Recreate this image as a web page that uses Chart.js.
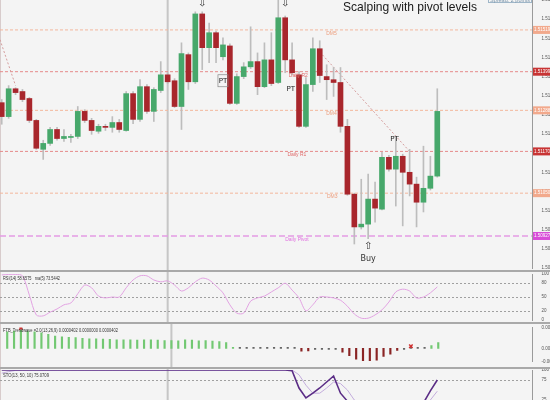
<!DOCTYPE html>
<html><head><meta charset="utf-8">
<script src="https://cdn.jsdelivr.net/npm/chart.js@4/dist/chart.umd.min.js"></script>
<style>
html,body{margin:0;padding:0;background:#f4f4f4;width:550px;height:400px;overflow:hidden;}
.panel{position:absolute;left:0;width:550px;}
</style></head><body>
<div class="panel" style="top:0;height:270px"><canvas id="main"></canvas></div>
<div class="panel" style="top:270px;height:52px"><canvas id="rsi"></canvas></div>
<div class="panel" style="top:322px;height:45px"><canvas id="hist"></canvas></div>
<div class="panel" style="top:367px;height:43px"><canvas id="stoch"></canvas></div>
<script>
// ---------- DATA ----------
const openP  = [1.51310,1.51270,1.51350,1.51342,1.51322,1.51259,1.51176,1.51193,1.51233,1.51207,1.51210,1.51213,1.51285,1.51259,1.51228,1.51242,1.51239,1.51253,1.51230,1.51336,1.51262,1.51356,1.51285,1.51345,1.51390,1.51373,1.51299,1.51448,1.51370,1.51565,1.51468,1.51511,1.51442,1.51473,1.51308,1.51385,1.51413,1.51428,1.51356,1.51433,1.51368,1.51554,1.51433,1.51390,1.51242,1.51362,1.51465,1.51385,1.51376,1.51368,1.51242,1.51047,1.50953,1.50961,1.51033,1.51004,1.51153,1.51119,1.51156,1.51110,1.51076,1.51024,1.51064,1.51099];
const highP  = [1.51319,1.51359,1.51353,1.51348,1.51325,1.51262,1.51202,1.51239,1.51239,1.51233,1.51219,1.51299,1.51290,1.51265,1.51248,1.51248,1.51270,1.51262,1.51342,1.51342,1.51376,1.51362,1.51353,1.51428,1.51396,1.51379,1.51482,1.51453,1.51571,1.51571,1.51539,1.51516,1.51496,1.51479,1.51393,1.51425,1.51528,1.51453,1.51482,1.51511,1.51605,1.51559,1.51482,1.51399,1.51382,1.51496,1.51488,1.51419,1.51411,1.51411,1.51262,1.51050,1.51090,1.51105,1.51082,1.51167,1.51159,1.51210,1.51162,1.51176,1.51096,1.51185,1.51156,1.51350];
const lowP   = [1.51248,1.51265,1.51333,1.51313,1.51253,1.51176,1.51147,1.51187,1.51202,1.51199,1.51196,1.51207,1.51253,1.51219,1.51222,1.51230,1.51225,1.51225,1.51228,1.51250,1.51256,1.51279,1.51256,1.51339,1.51365,1.51296,1.51233,1.51348,1.51365,1.51405,1.51425,1.51425,1.51433,1.51305,1.51305,1.51379,1.51408,1.51333,1.51353,1.51359,1.51365,1.51396,1.51390,1.51239,1.51239,1.51342,1.51368,1.51319,1.51328,1.51225,1.51044,1.50904,1.50947,1.50919,1.50967,1.51002,1.51113,1.51013,1.50956,1.51042,1.50953,1.50996,1.51059,1.51096];
const closeP = [1.51270,1.51350,1.51339,1.51319,1.51259,1.51179,1.51193,1.51233,1.51207,1.51213,1.51213,1.51285,1.51259,1.51230,1.51242,1.51239,1.51253,1.51233,1.51336,1.51262,1.51356,1.51285,1.51348,1.51390,1.51370,1.51299,1.51451,1.51370,1.51565,1.51468,1.51511,1.51468,1.51476,1.51308,1.51385,1.51413,1.51428,1.51356,1.51433,1.51365,1.51554,1.51433,1.51396,1.51242,1.51362,1.51465,1.51388,1.51376,1.51368,1.51242,1.51047,1.50953,1.50961,1.51033,1.51007,1.51153,1.51119,1.51156,1.51110,1.51076,1.51024,1.51064,1.51099,1.51285];

const priceTicks = [1.50835,1.50890,1.50945,1.51000,1.51055,1.51110,1.51165,1.51220,1.51275,1.51330,1.51385,1.51440,1.51495,1.51550,1.51605];

const pivotNames  = ['DM5','Daily R2','DM4','Daily R1','DM3','Daily Pivot'];
const pivotLevels = [1.51519,1.51399,1.51288,1.51170,1.51050,1.50927];
const pivotKinds  = ['mid','res','mid','res','mid','pivot'];

const trendLines = [
  [[-0.25,1.51491],[2,1.51359]],
  [[46,1.51456],[59,1.51170]]
];

const rsiVals = [98,99,99,96,54,11,9,17,24,33,37,57,76,70,52,48,50,50,70,87,96,96,87,83,85,76,63,70,83,91,87,74,59,33,15,15,41,48,52,61,70,80,65,48,20,33,50,50,48,43,30,13,4,4,11,22,39,61,67,63,48,50,59,72];
const rsiTicks = [0,20,50,80,100];
const rsiLevels = [20,50,80];

const histVals = [0.00109,0.00115,0.00119,0.00115,0.00109,0.00102,0.00092,0.00082,0.00077,0.00073,0.00071,0.00067,0.00063,0.00063,0.00061,0.00059,0.00057,0.00056,0.00056,0.00054,0.00056,0.00056,0.00054,0.00052,0.00052,0.00050,0.00056,0.00054,0.00050,0.00052,0.00048,0.00044,0.00038,0.00006,0.00002,0.00002,0.00002,0.00002,0.00002,0.00002,0.00002,0.00002,0.00002,-0.00019,-0.00017,-0.00003,-0.00003,-0.00004,-0.00004,-0.00025,-0.00048,-0.00071,-0.00082,-0.00082,-0.00079,-0.00054,-0.00038,-0.00013,-0.00002,0.00003,0.00002,0.00003,0.00019,0.00038];
const histTicks = [-0.00087,0,0.00138];
const histMarks = [[2,0.00135],[59,0.00014]];

const stochMain   = [100,100,100,100,100,100,100,100,100,100,100,100,100,100,100,100,100,100,100,100,100,100,100,100,100,100,100,100,100,100,100,100,100,100,100,100,100,100,100,100,100,100,98,55,30,42,55,70,85,42,22,10,6,8,5,12,15,18,14,10,8,18,48,75];
const stochSignal = [92,96,99,100,100,100,100,100,100,100,100,100,100,100,100,100,100,100,100,100,100,100,100,100,100,100,100,100,100,100,100,100,100,100,100,100,100,100,100,100,100,100,100,88,62,42,42,55,70,66,50,25,13,8,6,8,11,15,16,14,11,12,25,47];
const stochTicks = [25,75,100];
const stochLevels = [75];

const daySeparator = 24;
const titleText = 'Scalping with pivot levels';
const spreadText = 'Spread: 2 points';
const rsiLabel = 'RSI(14) 58.6575   ma(5) 73.5442';
const histLabel = 'FTB_Trendwave =2.0(13,26,9) 0.0000402 0.0000000 0.0000402';
const stochLabel = 'STO(13, 50, 10) 75.0709';

// annotation anchors (candle index, price)
const arrowsDown = [[29,1.51594],[41,1.51594]];
const arrowsUp = [[53,1.50898]];
const buyAt = [53,1.50862];
const ptMarks = [[32,1.51373,true],[41.8,1.51350,false],[56.8,1.51205,false]];
const pivotLabelIdx = [47.7,42.9,47.7,42.7,47.8,42.7];

// ---------- HELPERS ----------
const X_MIN = -0.25, X_MAX = 76.7;
const idx = openP.map((_, i) => i);
const FONT = 'Liberation Sans';
function xScale(){ return {type:'linear', min:X_MIN, max:X_MAX, display:false, offset:false, grid:{display:false, offset:false}}; }
function yRight(min, max, tickArr, fmt){
  return {type:'linear', position:'right', min, max,
    afterFit(s){ s.width = 18; s.paddingTop = 0; s.paddingBottom = 0; },
    afterBuildTicks(s){ s.ticks = tickArr.map(v => ({value:v})); },
    ticks:{font:{size:4.5, family:FONT}, color:'#555', padding:1.5, autoSkip:false, maxRotation:0, callback:fmt},
    grid:{display:false}, border:{display:true, color:'#9a9a9a', width:1}};
}
const baseOpts = {responsive:true, maintainAspectRatio:false, animation:false, devicePixelRatio:1,
  plugins:{legend:{display:false}, tooltip:{enabled:false}}};
function vSep(chart){
  const {ctx, scales:{x}} = chart;
  const px = x.getPixelForValue(daySeparator);
  ctx.save(); ctx.fillStyle = '#c6c6c6'; ctx.fillRect(px-1, 0, 2, chart.height);
  ctx.fillStyle = '#d8cccc'; ctx.fillRect(0, 0, 1, chart.height); ctx.restore();
}
function topSep(chart){
  const {ctx} = chart; ctx.save(); ctx.fillStyle = '#a9a9a9'; ctx.fillRect(0, 0, chart.width, 2); ctx.restore();
}
function panelLabel(chart, text, maxW){
  const {ctx} = chart; ctx.save(); ctx.font = '5px ' + FONT; ctx.fillStyle = '#333'; ctx.textBaseline = 'top';
  ctx.fillText(text, 3, 6, maxW); ctx.restore();
}
function levelLines(chart, levels){
  const {ctx, chartArea, scales:{y}} = chart;
  ctx.save(); ctx.strokeStyle = '#a0a0a0'; ctx.lineWidth = 1; ctx.setLineDash([2,2]);
  levels.forEach(v => { const py = Math.round(y.getPixelForValue(v)) + 0.5;
    ctx.beginPath(); ctx.moveTo(chartArea.left, py); ctx.lineTo(chartArea.right, py); ctx.stroke(); });
  ctx.restore();
}

// ---------- MAIN CHART ----------
const pivotStyle = {
  mid:{color:'#f3b79c', dash:[3,2], width:1, box:'#f2a98c', text:'#fff', label:'#eda080'},
  res:{color:'#e58a8a', dash:[3,2], width:1, box:'#c83434', text:'#fff', label:'#e06a6a'},
  pivot:{color:'#e49ae4', dash:[6,3], width:1.5, box:'#d84cd8', text:'#fff', label:'#e070e0'}
};
const pivotDatasets = pivotLevels.map((lv, k) => ({
  type:'line', data:[{x:X_MIN, y:lv},{x:X_MAX, y:lv}],
  borderColor:pivotStyle[pivotKinds[k]].color, borderWidth:pivotStyle[pivotKinds[k]].width,
  borderDash:pivotStyle[pivotKinds[k]].dash, pointRadius:0, order:5
}));
const trendDatasets = trendLines.map(tl => ({
  type:'line', data:tl.map(p => ({x:p[0], y:p[1]})), borderColor:'#d49c9c', borderWidth:1,
  borderDash:[2,2], pointRadius:0, order:4
}));
const up = i => closeP[i] >= openP[i];

const mainPlugin = {
  id:'mainDeco',
  beforeDatasetsDraw(chart){ vSep(chart); },
  afterDatasetsDraw(chart){
    const {ctx, scales:{x, y}} = chart;
    ctx.save();
    ctx.font = '5px ' + FONT; ctx.textAlign = 'center'; ctx.textBaseline = 'middle';
    pivotLevels.forEach((lv, k) => {
      ctx.fillStyle = pivotStyle[pivotKinds[k]].label;
      ctx.fillText(pivotNames[k], x.getPixelForValue(pivotLabelIdx[k]), y.getPixelForValue(lv) + 3.5);
    });
    ctx.fillStyle = '#333'; ctx.font = '10px "DejaVu Sans"';
    arrowsDown.forEach(a => ctx.fillText('\u21E9', x.getPixelForValue(a[0]), y.getPixelForValue(a[1])));
    arrowsUp.forEach(a => ctx.fillText('\u21E7', x.getPixelForValue(a[0]), y.getPixelForValue(a[1])));
    ctx.font = '8px "DejaVu Sans"';
    ctx.fillText('Buy', x.getPixelForValue(buyAt[0]), y.getPixelForValue(buyAt[1]));
    ptMarks.forEach(p => {
      const px = x.getPixelForValue(p[0]), py = y.getPixelForValue(p[1]);
      ctx.fillStyle = '#222'; ctx.font = '7px "DejaVu Sans"';
      ctx.fillText('PT', px, py);
      if (p[2]) { ctx.strokeStyle = '#888'; ctx.lineWidth = 0.7; ctx.strokeRect(px-5, py-6, 10, 12); }
    });
    ctx.textAlign = 'left'; ctx.textBaseline = 'alphabetic';
    ctx.fillStyle = '#1a1a1a'; ctx.font = '13px ' + FONT;
    ctx.fillText(titleText, 343, 11, 134);
    ctx.strokeStyle = '#9fb6c8'; ctx.lineWidth = 1; ctx.strokeRect(488.5, -6.5, 43, 9);
    ctx.fillStyle = '#7d97ad'; ctx.font = '6px ' + FONT; ctx.fillText(spreadText, 490, 1.5, 40);
    ctx.restore();
  },
  afterDraw(chart){
    const {ctx, chartArea, scales:{y}} = chart;
    ctx.save(); ctx.font = '4.5px ' + FONT; ctx.textBaseline = 'middle'; ctx.textAlign = 'left';
    pivotLevels.forEach((lv, k) => {
      const st = pivotStyle[pivotKinds[k]]; const py = y.getPixelForValue(lv);
      ctx.fillStyle = st.box; ctx.fillRect(chartArea.right + 1, py - 4, 18, 8);
      ctx.fillStyle = st.text; ctx.fillText(lv.toFixed(5), chartArea.right + 2, py);
    });
    ctx.restore();
  }
};

new Chart(document.getElementById('main'), {
  type:'bar',
  data:{datasets:[
    ...pivotDatasets, ...trendDatasets,
    {type:'bar', data:idx.map(i => ({x:i, y:[lowP[i], highP[i]]})), backgroundColor:'#bdbdbd',
     barThickness:1, grouped:false, order:2},
    {type:'bar', data:idx.map(i => ({x:i, y:[openP[i], closeP[i]]})),
     backgroundColor:idx.map(i => up(i) ? '#47a86b' : '#a8262c'), barThickness:5, minBarLength:1,
     grouped:false, order:1}
  ]},
  options:{...baseOpts, layout:{padding:{top:0, bottom:2, left:0, right:0}},
    scales:{x:xScale(), y:yRight(1.50835, 1.51605, priceTicks, v => Number(v).toFixed(5))}},
  plugins:[mainPlugin]
});

// ---------- RSI ----------
new Chart(document.getElementById('rsi'), {
  type:'line',
  data:{datasets:[{data:idx.map(i => ({x:i, y:rsiVals[i]})), borderColor:'#e2a2e2', borderWidth:1,
    pointRadius:0, tension:0.3}]},
  options:{...baseOpts, layout:{padding:{top:4, bottom:2}},
    scales:{x:xScale(), y:yRight(0, 100, rsiTicks, v => String(v))}},
  plugins:[{id:'rsiDeco', beforeDatasetsDraw(c){ vSep(c); levelLines(c, rsiLevels); },
    afterDraw(c){ topSep(c); panelLabel(c, rsiLabel, 57); }}]
});

// ---------- HISTOGRAM ----------
new Chart(document.getElementById('hist'), {
  type:'bar',
  data:{datasets:[
    {type:'line', data:histMarks.map(m => ({x:m[0], y:m[1]})), showLine:false, pointStyle:'crossRot',
     pointRadius:2.5, borderColor:'#d03030', borderWidth:1.5, order:0},
    {type:'bar', data:idx.map(i => ({x:i, y:histVals[i]})),
     backgroundColor:idx.map(i => Math.abs(histVals[i]) < 0.00005 ? '#666' : (histVals[i] > 0 ? '#72c872' : '#8a2424')),
     barThickness:1.5, minBarLength:1, order:1}
  ]},
  options:{...baseOpts, layout:{padding:{top:4, bottom:3}},
    scales:{x:xScale(), y:yRight(-0.00087, 0.00138, histTicks, v => v === 0 ? '0.00' : Number(v).toFixed(5))}},
  plugins:[{id:'histDeco', beforeDatasetsDraw(c){ vSep(c); },
    afterDraw(c){ topSep(c); panelLabel(c, histLabel, 115); }}]
});

// ---------- STOCHASTIC ----------
new Chart(document.getElementById('stoch'), {
  type:'line',
  data:{datasets:[
    {data:idx.map(i => ({x:i, y:stochSignal[i]})), borderColor:'#c3acdc', borderWidth:1, pointRadius:0, order:2},
    {data:idx.map(i => ({x:i, y:stochMain[i]})), borderColor:'#5b2d86', borderWidth:1.6, pointRadius:0, order:1}
  ]},
  options:{...baseOpts, layout:{padding:{top:3, bottom:0}},
    scales:{x:xScale(), y:yRight(0, 100, stochTicks, v => String(v))}},
  plugins:[{id:'stDeco', beforeDatasetsDraw(c){ vSep(c); levelLines(c, stochLevels); },
    afterDraw(c){ topSep(c); panelLabel(c, stochLabel, 46); }}]
});
</script>
</body></html>
